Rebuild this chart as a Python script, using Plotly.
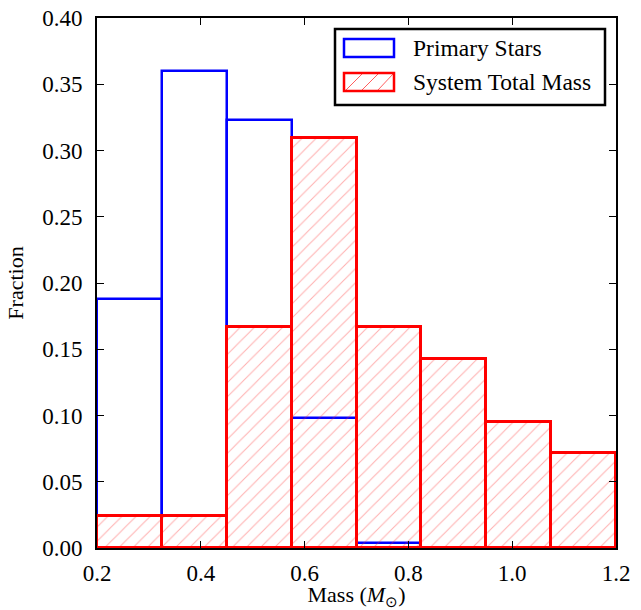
import plotly.graph_objects as go

bin_edges = [0.2, 0.325, 0.45, 0.575, 0.7, 0.825, 0.95, 1.075, 1.2]
primary_frac = [0.188, 0.360, 0.323, 0.098, 0.004, 0.0, 0.0, 0.0]
system_frac = [0.0238, 0.0238, 0.1667, 0.3095, 0.1667, 0.1429, 0.0952, 0.0714]
x_ticks = [0.2, 0.4, 0.6, 0.8, 1.0, 1.2]
y_ticks = [0.0, 0.05, 0.10, 0.15, 0.20, 0.25, 0.30, 0.35, 0.40]

centers = [(a + b) / 2 for a, b in zip(bin_edges[:-1], bin_edges[1:])]
widths = [b - a for a, b in zip(bin_edges[:-1], bin_edges[1:])]

FONT = "Liberation Serif"

fig = go.Figure()
fig.add_trace(go.Bar(
    x=centers, y=primary_frac, width=widths, name="Primary Stars",
    marker=dict(color="rgba(0,0,0,0)", line=dict(color="#0000ff", width=2.5)),
    showlegend=False,
))
fig.add_trace(go.Bar(
    x=centers, y=system_frac, width=widths, name="System Total Mass",
    marker=dict(color="rgba(0,0,0,0)", line=dict(color="#ff0000", width=3),
                pattern=dict(shape="/", fgcolor="rgba(255,40,40,0.75)",
                             bgcolor="rgba(0,0,0,0)", size=10, solidity=0.1)),
    showlegend=False,
))

axis_common = dict(
    showline=True, linecolor="black", linewidth=2, mirror="ticks",
    ticks="inside", ticklen=7, tickwidth=1, tickcolor="black",
    showgrid=False, zeroline=False, automargin=False,
    tickfont=dict(family=FONT, size=23, color="black"),
)

fig.update_xaxes(range=[0.2, 1.2], tickvals=x_ticks,
                 ticktext=[f"{v:.1f}" for v in x_ticks],
                 title=dict(text="Mass (<i>M</i><sub>⊙</sub>)",
                            font=dict(family=FONT, size=22, color="black"),
                            standoff=13),
                 ticklabelstandoff=3,
                 **axis_common)
fig.update_yaxes(range=[0, 0.40], tickvals=y_ticks,
                 ticktext=[f"{v:.2f}" for v in y_ticks],
                 title=dict(text="Fraction",
                            font=dict(family=FONT, size=22, color="black"),
                            standoff=12),
                 ticklabelstandoff=8,
                 **axis_common)

# custom legend (paper coordinates)
L, R, T, B = 97, 616, 18, 548
def px(x):
    return (x - L) / (R - L)
def py(y):
    return (B - y) / (B - T)

shapes = [
    dict(type="rect", xref="paper", yref="paper", x0=px(335), x1=px(605),
         y0=py(105), y1=py(29), line=dict(color="black", width=2.5),
         fillcolor="white", layer="above"),
    dict(type="rect", xref="paper", yref="paper", x0=px(344), x1=px(394),
         y0=py(57), y1=py(39), line=dict(color="#0000ff", width=2.5),
         layer="above"),
]
# hatch in red legend symbol
for (xa, xb) in [(346, 362), (362, 378), (378, 393)]:
    shapes.append(dict(type="line", xref="paper", yref="paper",
                       x0=px(xa), x1=px(xb), y0=py(90), y1=py(74),
                       line=dict(color="rgba(255,40,40,0.75)", width=1),
                       layer="above"))
shapes.append(dict(type="rect", xref="paper", yref="paper", x0=px(344), x1=px(394),
                   y0=py(91), y1=py(73), line=dict(color="#ff0000", width=2.5),
                   layer="above"))

annotations = [
    dict(text="Primary Stars", xref="paper", yref="paper", x=px(411), y=py(48),
         xanchor="left", yanchor="middle", showarrow=False,
         font=dict(family=FONT, size=23.5, color="black")),
    dict(text="System Total Mass", xref="paper", yref="paper", x=px(411), y=py(82),
         xanchor="left", yanchor="middle", showarrow=False,
         font=dict(family=FONT, size=23.5, color="black")),
]

fig.update_layout(
    width=641, height=610,
    margin=dict(l=L, r=641 - R, t=T, b=610 - B),
    plot_bgcolor="white", paper_bgcolor="white",
    barmode="overlay", bargap=0,
    shapes=shapes, annotations=annotations,
    font=dict(family=FONT, color="black"),
)

fig.write_html("out.html")
